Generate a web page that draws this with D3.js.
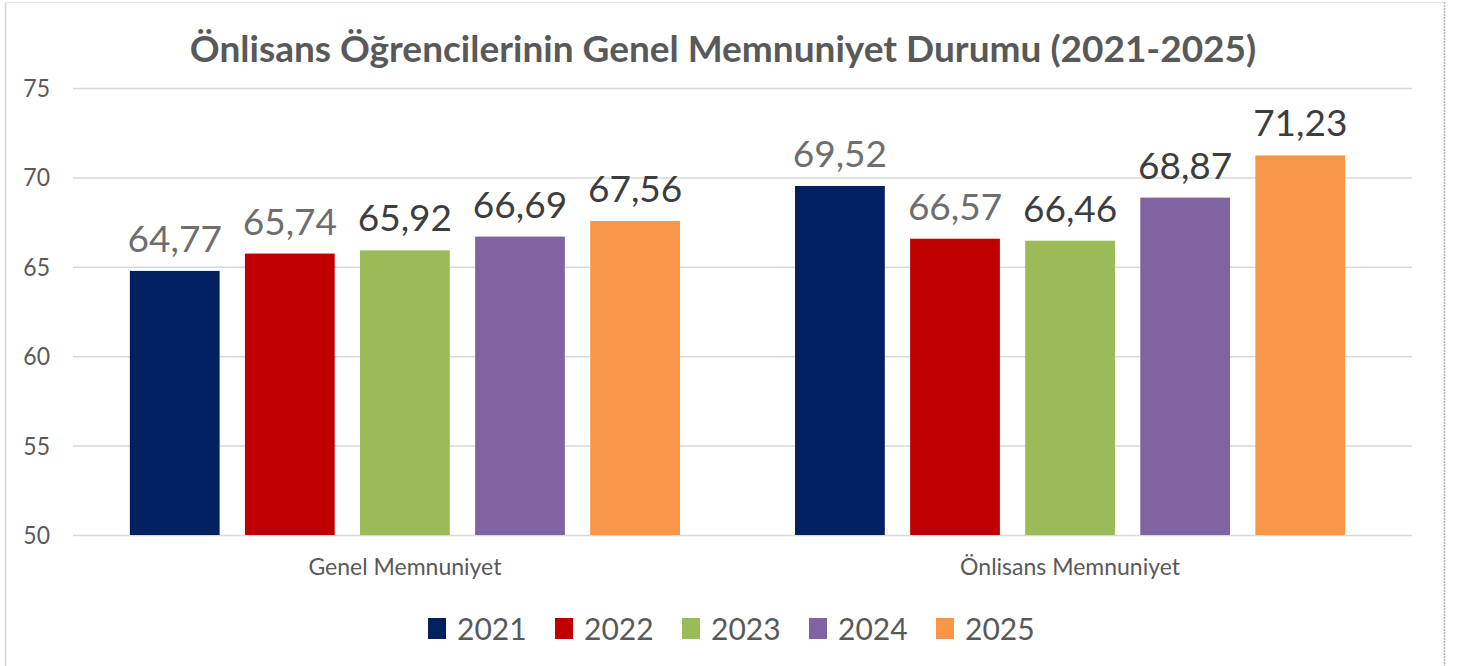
<!DOCTYPE html>
<html>
<head>
<meta charset="utf-8">
<script src="https://cdn.jsdelivr.net/npm/d3@7"></script>
<style>
  html, body { margin: 0; padding: 0; background: #fff; }
  text { font-family: Lato, "Open Sans", sans-serif; }
</style>
</head>
<body>
<div id="root"></div>
<script>
// chart data
const categories = ["Genel Memnuniyet", "Önlisans Memnuniyet"];
const years = ["2021", "2022", "2023", "2024", "2025"];
const values2021 = [64.77, 69.52];
const values2022 = [65.74, 66.57];
const values2023 = [65.92, 66.46];
const values2024 = [66.69, 68.87];
const values2025 = [67.56, 71.23];
const yTicks = [50, 55, 60, 65, 70, 75];
const title = "Önlisans Öğrencilerinin Genel Memnuniyet Durumu (2021-2025)";

const seriesValues = [values2021, values2022, values2023, values2024, values2025];
const colors = ["#002060", "#c00000", "#9bbb59", "#8064a2", "#f79646"];
const labelColors = ["#6e6e6e", "#6e6e6e", "#3d3d3d", "#3d3d3d", "#3d3d3d"];

const width = 1458;
const height = 666;

const plot = { left: 73, right: 1412, top: 88, bottom: 535 };

const svg = d3.select("#root").append("svg")
  .attr("width", width)
  .attr("height", height);

// frame around the chart area
svg.append("line").attr("x1", 5.5).attr("x2", 5.5).attr("y1", 2).attr("y2", height)
  .attr("stroke", "#d4d4d4").attr("stroke-width", 1.5);
svg.append("line").attr("x1", 5).attr("x2", 1444).attr("y1", 2.5).attr("y2", 2.5)
  .attr("stroke", "#e6e6e6").attr("stroke-width", 1);
svg.append("line").attr("x1", 1444.5).attr("x2", 1444.5).attr("y1", 2).attr("y2", height)
  .attr("stroke", "#b8b8b8").attr("stroke-width", 1.5).attr("stroke-dasharray", "2,1");

// place text with a small horizontal squeeze where needed
function place(sel, x, y, sx = 1) {
  return sel.attr("transform", `translate(${x},${y}) scale(${sx},1)`);
}

const y = d3.scaleLinear().domain([50, 75]).range([plot.bottom, plot.top]);

const x0 = d3.scaleBand()
  .domain(categories)
  .range([70, 1405])
  .paddingInner(0.173)
  .paddingOuter(0.09);

const x1 = d3.scaleBand()
  .domain(years)
  .range([0, x0.bandwidth()])
  .paddingInner(0.22);

// gridlines
svg.append("g")
  .selectAll("line")
  .data(yTicks)
  .join("line")
  .attr("x1", plot.left)
  .attr("x2", plot.right)
  .attr("y1", d => y(d) + 0.5)
  .attr("y2", d => y(d) + 0.5)
  .attr("stroke", "#d9d9d9")
  .attr("stroke-width", 1.5);

// y tick labels
svg.append("g")
  .selectAll("text")
  .data(yTicks)
  .join("text")
  .each(function (d) { place(d3.select(this), 50, y(d) + 9, 0.92); })
  .attr("text-anchor", "end")
  .attr("font-size", 25)
  .attr("fill", "#595959")
  .text(d => d);

// bars
const bars = [];
years.forEach((yr, i) => {
  categories.forEach((cat, j) => {
    bars.push({ year: yr, cat: cat, value: seriesValues[i][j], i: i });
  });
});

svg.append("g")
  .selectAll("rect")
  .data(bars)
  .join("rect")
  .attr("x", d => x0(d.cat) + x1(d.year))
  .attr("y", d => y(d.value))
  .attr("width", x1.bandwidth())
  .attr("height", d => y(50) - y(d.value))
  .attr("fill", d => colors[d.i]);

// value labels
svg.append("g")
  .selectAll("text")
  .data(bars)
  .join("text")
  .each(function (d) {
    place(d3.select(this), x0(d.cat) + x1(d.year) + x1.bandwidth() / 2, y(d.value) - 19);
  })
  .attr("text-anchor", "middle")
  .attr("font-size", 37)
  .attr("fill", d => labelColors[d.i])
  .text(d => d.value.toFixed(2).replace(".", ","));

// category labels
svg.append("g")
  .selectAll("text")
  .data(categories)
  .join("text")
  .each(function (d) { place(d3.select(this), x0(d) + x0.bandwidth() / 2, 575); })
  .attr("text-anchor", "middle")
  .attr("font-size", 23)
  .attr("fill", "#595959")
  .text(d => d);

// title
place(svg.append("text"), 723, 62)
  .attr("text-anchor", "middle")
  .attr("font-size", 37)
  .attr("font-weight", "bold")
  .attr("fill", "#595959")
  .text(title);

// legend
const legend = svg.append("g")
  .selectAll("g")
  .data(years)
  .join("g")
  .attr("transform", (d, i) => `translate(${428 + i * 127},618)`);

legend.append("rect")
  .attr("width", 18)
  .attr("height", 21)
  .attr("fill", (d, i) => colors[i]);

legend.append("text")
  .each(function () { place(d3.select(this), 29, 22); })
  .attr("font-size", 30)
  .attr("fill", "#595959")
  .text(d => d);
</script>
</body>
</html>
